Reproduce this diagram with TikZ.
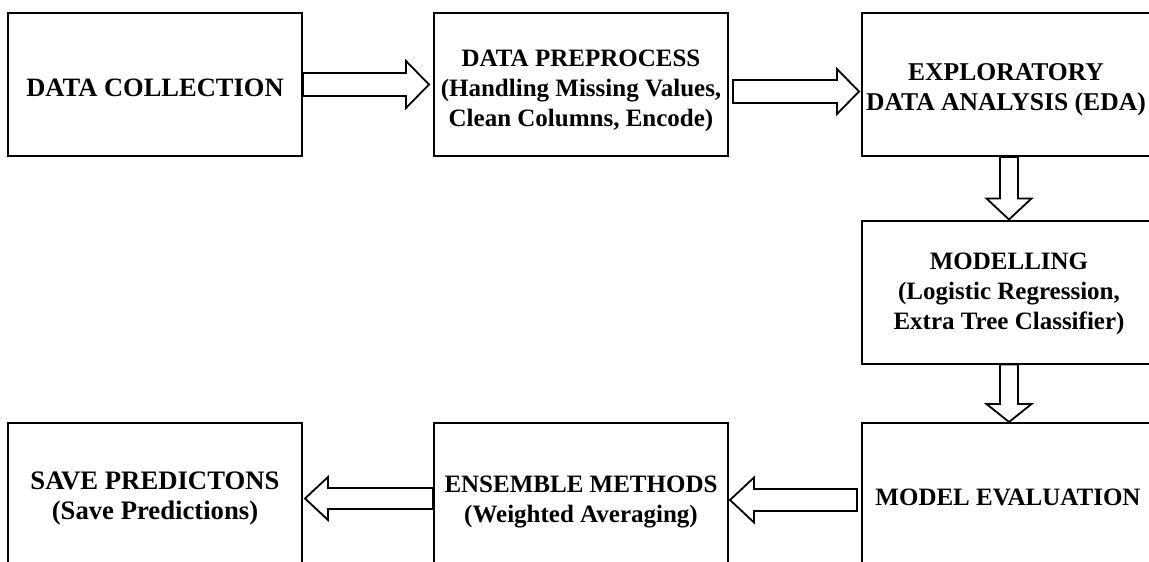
\documentclass[tikz,border=0pt]{standalone}
\usepackage{fontspec}
\setmainfont{Liberation Serif}
\usetikzlibrary{calc}
\tikzset{
  stage/.style={draw, line width=2pt, minimum width=294pt, minimum height=143pt, inner sep=0pt},
  caption/.style={inner sep=0pt, align=center, font=\fontsize{#1}{30}\selectfont\bfseries},
  caption/.default=25,
  blockarrow/.style={draw, line width=1.8pt, fill=white, line join=miter}
}
% hollow block arrow: start, tip, half shaft width, half head width, head length
\newcommand{\fatarrow}[5]{%
  \coordinate (fa-h) at ($(#2)!#5!(#1)$);
  \draw[blockarrow] ($(#1)!#3!90:(#2)$) -- ($(fa-h)!#3!90:(#2)$) -- ($(fa-h)!#4!90:(#2)$)
    -- (#2) -- ($(fa-h)!#4!-90:(#2)$) -- ($(fa-h)!#3!-90:(#2)$) -- ($(#1)!#3!-90:(#2)$) -- cycle;
}
\begin{document}
\begin{tikzpicture}[x=1pt, y=-1pt]
  \path[use as bounding box, fill=white] (0,0) rectangle (1149,562);
  \clip (0,0) rectangle (1149,562);

  % pipeline stages
  \node[stage] (collect) at (155,84.5)   {};
  \node[stage] (prep)    at (581,84.5)   {};
  \node[stage] (eda)     at (1009,84.5)  {};
  \node[stage] (model)   at (1009,292)   {};
  \node[stage] (eval)    at (1009,494.5) {};
  \node[stage] (ens)     at (581,494.5)  {};
  \node[stage] (save)    at (155,494.5)  {};

  % stage captions
  \node[caption=26.5] (collect-t) at ($(collect.center)+(0,3)$) {DATA COLLECTION};
  \node[caption] (prep-t)  at ($(prep.center)+(0,6)$)  {DATA PREPROCESS\\(Handling Missing Values,\\Clean Columns, Encode)};
  \node[caption=25.6] (eda-t) at ($(eda.center)+(-3,5)$) {EXPLORATORY\\DATA ANALYSIS (EDA)};
  \node[caption] (model-t) at ($(model.center)+(0,2)$) {MODELLING\\(Logistic Regression,\\Extra Tree Classifier)};
  \node[caption] (eval-t)  at ($(eval.center)+(-1,3)$) {MODEL EVALUATION};
  \node[caption] (ens-t)   at ($(ens.center)+(0,7)$)   {ENSEMBLE METHODS\\(Weighted Averaging)};
  \node[caption=26.7] (save-t) at ($(save.center)+(0,4)$) {SAVE PREDICTONS\\(Save Predictions)};

  % arrow end points
  \coordinate (a1s) at (collect.east);
  \coordinate (a1t) at ($(prep.west)+(-4,0)$);
  \coordinate (a2s) at ($(prep.east)+(4,7)$);
  \coordinate (a2t) at ($(eda.west)+(-2,7)$);
  \coordinate (a3s) at (eda.south);
  \coordinate (a3t) at (model.north);
  \coordinate (a4s) at (model.south);
  \coordinate (a4t) at (eval.north);
  \coordinate (a5s) at ($(eval.west)+(-4,5.5)$);
  \coordinate (a5t) at ($(ens.east)+(1,5.5)$);
  \coordinate (a6s) at ($(ens.west)+(0,4)$);
  \coordinate (a6t) at ($(save.east)+(2,4)$);

  % flow arrows
  \fatarrow{a1s}{a1t}{11.5pt}{23.5pt}{23pt}
  \fatarrow{a2s}{a2t}{11.5pt}{22.5pt}{22pt}
  \fatarrow{a3s}{a3t}{9pt}{22.5pt}{21pt}
  \fatarrow{a4s}{a4t}{9pt}{22.5pt}{18pt}
  \fatarrow{a5s}{a5t}{11pt}{22.5pt}{24pt}
  \fatarrow{a6s}{a6t}{10.5pt}{21.5pt}{23pt}
\end{tikzpicture}
\end{document}
